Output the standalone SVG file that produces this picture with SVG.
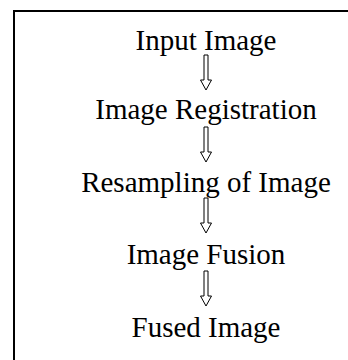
<svg xmlns="http://www.w3.org/2000/svg" width="348" height="360" viewBox="0 0 348 360">
<style>
.lbl{font-family:'Liberation Serif','Times New Roman',Times,serif;font-size:29px;fill:#000;text-anchor:middle}
.arr{fill:#fff;stroke:#000;stroke-width:1}
.frame{fill:none;stroke:#000;stroke-width:2}
</style>
<defs>
<path id="dn" class="arr" d="M-2,0 H2 V25 H5.5 L0,35 L-5.5,25 H-2 Z"/>
</defs>
<path class="frame" d="M14,360 V11 H348"/>
<g id="connectors">
<use href="#dn" x="206" y="55"/>
<use href="#dn" x="206" y="127"/>
<use href="#dn" x="206" y="198"/>
<use href="#dn" x="206" y="271"/>
</g>
<g id="n1"><text class="lbl" font-family="Liberation Serif, serif" x="206" y="50">Input Image</text></g>
<g id="n2"><text class="lbl" font-family="Liberation Serif, serif" x="206" y="119">Image Registration</text></g>
<g id="n3"><text class="lbl" font-family="Liberation Serif, serif" x="206" y="192">Resampling of Image</text></g>
<g id="n4"><text class="lbl" font-family="Liberation Serif, serif" x="206" y="264">Image Fusion</text></g>
<g id="n5"><text class="lbl" font-family="Liberation Serif, serif" x="206" y="337">Fused Image</text></g>
</svg>
